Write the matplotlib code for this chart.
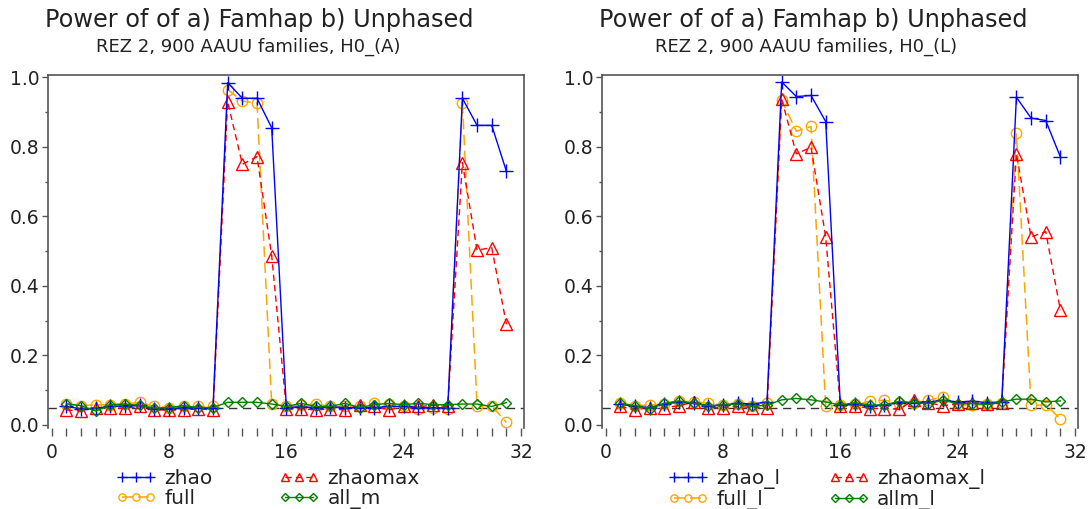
import matplotlib
matplotlib.use("Agg")
import matplotlib.pyplot as plt

positions = list(range(1, 32))

zhao_A = [0.053, 0.046, 0.048, 0.053, 0.055, 0.056, 0.046, 0.046, 0.050, 0.048, 0.050,
          0.985, 0.940, 0.940, 0.855,
          0.050, 0.052, 0.050, 0.052, 0.050, 0.050, 0.050, 0.053, 0.053, 0.050, 0.050, 0.048,
          0.940, 0.862, 0.862, 0.730]
zhaomax_A = [0.043, 0.040, 0.050, 0.048, 0.048, 0.053, 0.043, 0.043, 0.043, 0.046, 0.043,
             0.930, 0.750, 0.772, 0.487,
             0.046, 0.046, 0.043, 0.046, 0.043, 0.058, 0.053, 0.043, 0.053, 0.053, 0.056, 0.053,
             0.755, 0.503, 0.510, 0.290]
full_A = [0.061, 0.055, 0.058, 0.058, 0.060, 0.065, 0.053, 0.050, 0.055, 0.053, 0.053,
          0.965, 0.932, 0.926, 0.060,
          0.053, 0.056, 0.060, 0.053, 0.053, 0.053, 0.062, 0.060, 0.053, 0.046, 0.050, 0.046,
          0.927, 0.055, 0.055, 0.007]
allm_A = [0.061, 0.055, 0.040, 0.058, 0.060, 0.056, 0.048, 0.050, 0.055, 0.050, 0.050,
          0.065, 0.065, 0.065, 0.060,
          0.053, 0.062, 0.053, 0.053, 0.062, 0.050, 0.058, 0.062, 0.058, 0.062, 0.058, 0.058,
          0.060, 0.060, 0.053, 0.064]

zhao_L = [0.060, 0.053, 0.050, 0.060, 0.066, 0.062, 0.055, 0.057, 0.062, 0.060, 0.066,
          0.987, 0.945, 0.948, 0.873,
          0.057, 0.059, 0.055, 0.057, 0.064, 0.064, 0.066, 0.071, 0.066, 0.068, 0.064, 0.066,
          0.943, 0.883, 0.876, 0.771]
zhaomax_L = [0.053, 0.043, 0.050, 0.050, 0.055, 0.066, 0.050, 0.050, 0.053, 0.050, 0.050,
             0.938, 0.780, 0.799, 0.541,
             0.055, 0.055, 0.047, 0.047, 0.045, 0.071, 0.064, 0.055, 0.061, 0.064, 0.059, 0.064,
             0.781, 0.541, 0.556, 0.330]
full_L = [0.062, 0.055, 0.057, 0.060, 0.069, 0.066, 0.062, 0.057, 0.060, 0.055, 0.062,
          0.934, 0.845, 0.859, 0.054,
          0.057, 0.059, 0.068, 0.071, 0.064, 0.064, 0.071, 0.080, 0.057, 0.057, 0.059, 0.064,
          0.840, 0.057, 0.057, 0.018]
allm_L = [0.062, 0.055, 0.047, 0.062, 0.069, 0.062, 0.055, 0.057, 0.060, 0.053, 0.057,
          0.072, 0.076, 0.072, 0.066,
          0.057, 0.064, 0.057, 0.057, 0.068, 0.064, 0.061, 0.071, 0.061, 0.061, 0.059, 0.066,
          0.074, 0.074, 0.066, 0.069]

title_main = "Power of of a) Famhap b) Unphased"
subtitles = ["REZ 2, 900 AAUU families, H0_(A)", "REZ 2, 900 AAUU families, H0_(L)"]
labels_A = ["zhao", "zhaomax", "full", "all_m"]
labels_L = ["zhao_l", "zhaomax_l", "full_l", "allm_l"]
alpha_level = 0.05
xticks = [0, 8, 16, 24, 32]
xminor = list(range(0, 33))
yticks = [0.0, 0.2, 0.4, 0.6, 0.8, 1.0]
yminor = [0.1, 0.3, 0.5, 0.7, 0.9]

BLUE = "#0000ff"
RED = "#ff0000"
ORANGE = "#ffa500"
GREEN = "#008000"
AXC = "#555555"

fig = plt.figure(figsize=(10.9, 5.09), dpi=100)
W, H = 1090, 509
TOP, BOT = 75, 428


def make_axes(left_px, right_px):
    return fig.add_axes([left_px / W, 1 - BOT / H, (right_px - left_px) / W, (BOT - TOP) / H])


def draw(ax, zhao, zmax, full, allm, labels, subtitle, colspace,
         leg_px, title_px, sub_px):
    h_full, = ax.plot(positions, full, color=ORANGE, lw=1.1, ls=(0, (7, 3.5)),
                      marker="o", ms=7.5, mfc="none", mec=ORANGE, mew=1.0)
    h_zmax, = ax.plot(positions, zmax, color=RED, lw=1.0, ls=(0, (4.5, 3)),
                      marker="^", ms=8, mfc="none", mec=RED, mew=1.0)
    h_zhao, = ax.plot(positions, zhao, color=BLUE, lw=1.0, ls="-",
                      marker="+", ms=10, mec=BLUE, mew=1.0)
    h_allm, = ax.plot(positions, allm, color=GREEN, lw=1.0, ls="-",
                      marker="D", ms=5.5, mfc="none", mec=GREEN, mew=1.0)
    ax.axhline(alpha_level, color="#333333", lw=1.0, ls=(0, (6, 4)), zorder=1)

    ax.set_xlim(-0.25, 32.2)
    ax.set_ylim(-0.009, 1.007)
    ax.set_xticks(xticks, labels=[str(v) for v in xticks])
    ax.set_xticks([m for m in xminor if m not in xticks], minor=True)
    ax.set_yticks(yticks, labels=[f"{v:.1f}" for v in yticks])
    ax.set_yticks(yminor, minor=True)
    ax.spines["bottom"].set_visible(False)
    for s in ["left", "top", "right"]:
        ax.spines[s].set_color(AXC)
        ax.spines[s].set_linewidth(1.2)
    ax.tick_params(axis="x", which="both", direction="out", length=6, width=1.0,
                   color=AXC, labelsize=13.5, pad=5, labelcolor="#222222")
    ax.tick_params(axis="y", which="major", direction="out", length=4, width=1.0,
                   color=AXC, labelsize=13.5, pad=2, labelcolor="#222222")
    ax.tick_params(axis="y", which="minor", direction="out", length=2.5, width=1.0, color=AXC)

    fig.text(title_px / W, 1 - 20 / H, title_main, ha="center", va="center",
             fontsize=17.3, color="#222222")
    fig.text(sub_px / W, 1 - 47 / H, subtitle, ha="center", va="center",
             fontsize=13, color="#222222")

    handles = [h_zhao, h_full, h_zmax, h_allm]
    labs = [labels[0], labels[2], labels[1], labels[3]]
    leg = fig.legend(handles, labs, ncol=2, loc="upper left", frameon=False,
                     bbox_to_anchor=(leg_px / W, 1 - 469 / H),
                     fontsize=14.5, handlelength=2.0, handletextpad=0.4,
                     columnspacing=colspace, labelspacing=0.05, numpoints=3,
                     markerscale=0.7, borderaxespad=0, borderpad=0)
    for t in leg.get_texts():
        t.set_color("#222222")
    return leg


axL = make_axes(48, 524)
draw(axL, zhao_A, zhaomax_A, full_A, allm_A, labels_A, subtitles[0], 3.3,
     116, 259, 248)

axR = make_axes(602, 1078)
draw(axR, zhao_L, zhaomax_L, full_L, allm_L, labels_L, subtitles[1], 2.4,
     668, 813, 806)

fig.savefig("out.png", dpi=100)
